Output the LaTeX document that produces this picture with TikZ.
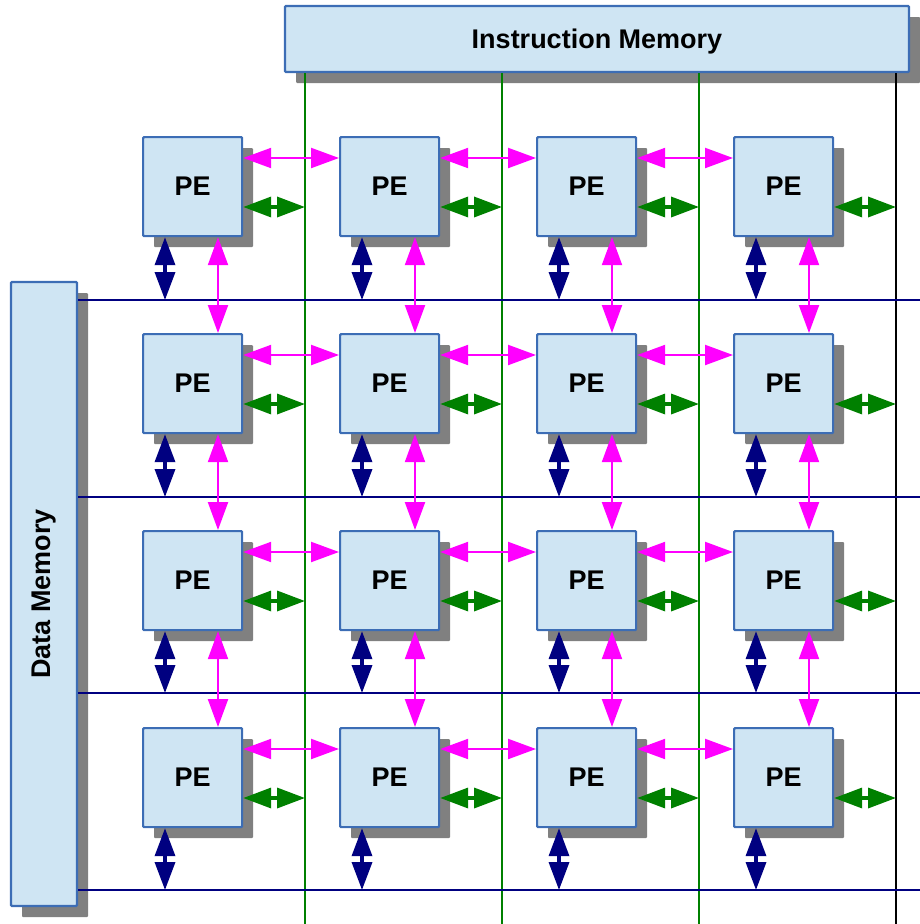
\documentclass[tikz,border=0pt]{standalone}
\usepackage{fontspec}
\setmainfont{Liberation Sans}
\usetikzlibrary{arrows.meta,shadows}
\definecolor{boxfill}{HTML}{CFE5F3}
\definecolor{boxline}{HTML}{3C6DB5}
\definecolor{busgreen}{HTML}{008000}
\definecolor{busnavy}{HTML}{000080}
\definecolor{linkmag}{HTML}{FF00FF}
\definecolor{shade}{HTML}{808080}
\begin{document}
\begin{tikzpicture}[x=1pt,y=-1pt,
  unitbox/.style={draw=boxline, line width=2.2pt, fill=boxfill, rounded corners=1pt,
    font=\bfseries\fontsize{27}{31}\selectfont, inner sep=0pt, text depth=0pt,
    drop shadow={shadow xshift=11pt, shadow yshift=-11pt, fill=shade, opacity=1, draw=none}},
  pe/.style={unitbox, minimum width=99pt, minimum height=99pt, anchor=north west},
  bus/.style={line width=2.4pt},
  dbl/.style={{Triangle[length=28pt,width=20pt]}-{Triangle[length=28pt,width=20pt]}},
  maglink/.style={dbl, draw=linkmag, fill=linkmag, line width=2.2pt},
  greenlink/.style={dbl, draw=busgreen, fill=busgreen, line width=3.5pt},
  navylink/.style={dbl, draw=busnavy, fill=busnavy, line width=3.5pt}]
\useasboundingbox (0,0) rectangle (920,924);

% memories
\node[unitbox, minimum width=624pt, minimum height=66pt] (im) at (597,39) {Instruction Memory};
\node[unitbox, minimum width=66pt, minimum height=624pt] (dm) at (44,594)
  {\rotatebox{90}{\raisebox{0pt}[\height][\depth]{Data Memory}}};

% instruction buses (columns) and data buses (rows)
\foreach \c/\x in {1/305,2/502,3/699,4/896}
  \coordinate (vb\c) at (\x,924);
\foreach \r/\y in {1/300,2/497,3/693,4/890}
  \coordinate (hb\r) at (920,\y);
\foreach \c in {1,2,3}
  \draw[bus, busgreen] (im.south -| vb\c) -- (vb\c);
\draw[bus, black] (im.south -| vb4) -- (vb4);
\foreach \r in {1,2,3,4}
  \draw[bus, busnavy] (dm.east |- hb\r) -- (hb\r);

% processing elements
\foreach \r/\y in {1/136,2/333,3/530,4/727}
  \foreach \c/\x in {1/142,2/339,3/536,4/733}
    \node[pe] (p\r\c) at (\x,\y) {PE};

% links
\foreach \r in {1,2,3,4}
  \foreach \c in {1,2,3,4}{
    \coordinate (g\r\c) at ([yshift=-71pt]p\r\c.north east);
    \draw[greenlink] (g\r\c) -- (g\r\c -| vb\c);
    \coordinate (n\r\c) at ([xshift=23pt]p\r\c.south west);
    \draw[navylink] (n\r\c) -- (n\r\c |- hb\r);
  }
\foreach \r in {1,2,3,4}
  \foreach \c in {1,2,3}{
    \pgfmathtruncatemacro{\nc}{\c+1}
    \draw[maglink] ([yshift=-22pt]p\r\c.north east) -- ([yshift=-22pt]p\r\nc.north west);
  }
\foreach \r in {1,2,3}
  \foreach \c in {1,2,3,4}{
    \pgfmathtruncatemacro{\nr}{\r+1}
    \draw[maglink] ([xshift=76pt]p\r\c.south west) -- ([xshift=76pt]p\nr\c.north west);
  }
\end{tikzpicture}
\end{document}
